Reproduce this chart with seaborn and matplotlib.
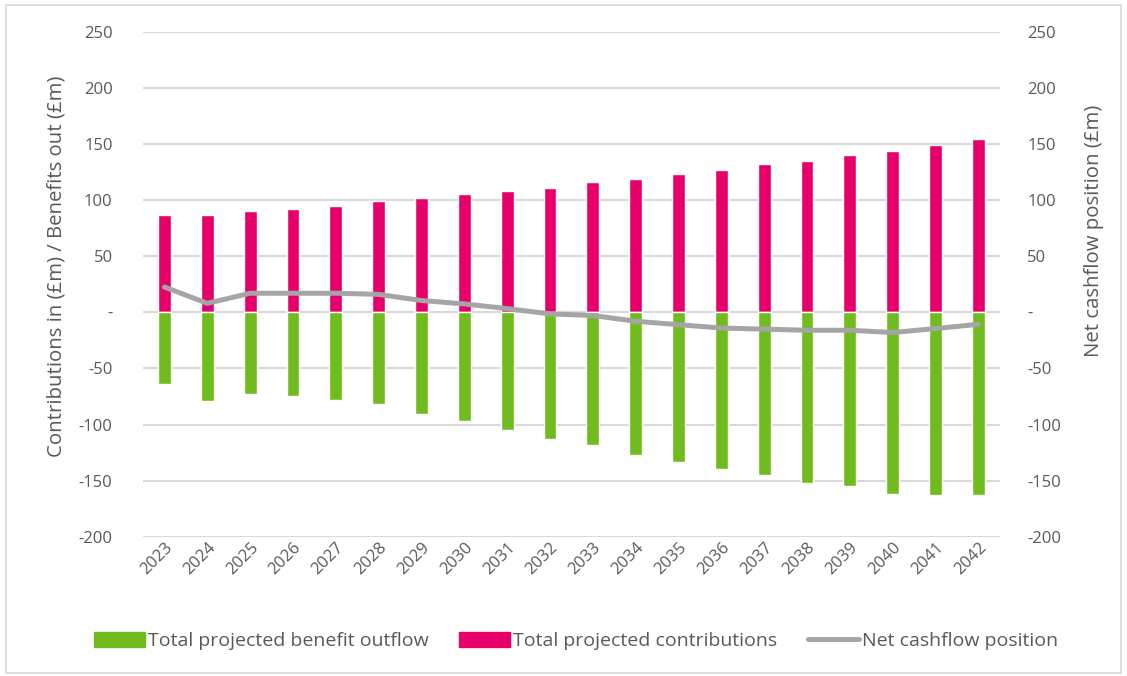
import numpy as np
import pandas as pd
import matplotlib
matplotlib.use("Agg")
import matplotlib.pyplot as plt
from matplotlib.patches import Patch, Rectangle
from matplotlib.lines import Line2D
import seaborn as sns

# data (£m)
years = [str(y) for y in range(2023, 2043)]
contributions = [87, 87, 90, 92, 95, 99, 102, 105, 108, 111,
                 116, 119, 123, 127, 132, 135, 140, 144, 149, 154]
benefits = [-64, -79, -73, -75, -78, -82, -91, -97, -105, -113,
            -118, -127, -133, -140, -145, -152, -155, -162, -163, -163]
net_cashflow = [22.5, 8, 17, 17, 17, 16, 10.5, 7.5, 3.3, -1.4,
                -2.8, -8, -11, -14, -15, -16, -16, -18, -14.5, -10.7]
y_ticks = [250, 200, 150, 100, 50, 0, -50, -100, -150, -200]

GREEN = "#70BC1F"
PINK = "#E8006A"
GREY = "#A5A5A5"
TEXT = "#595959"
GRID = "#D9D9D9"

df = pd.DataFrame({"Year": years, "Contributions": contributions,
                   "Benefits": benefits, "Net": net_cashflow})

sns.set_style("white")
plt.rcParams['font.family'] = ['Open Sans', 'DejaVu Sans']

fig = plt.figure(figsize=(11.27, 6.76), dpi=100)
ax = fig.add_axes([0.127, 0.206, 0.76, 0.747])

# 막대 두 개를 같은 위치에 겹쳐 그림
sns.barplot(data=df, x="Year", y="Contributions", color=PINK, width=0.3,
            saturation=1, ax=ax, zorder=2)
sns.barplot(data=df, x="Year", y="Benefits", color=GREEN, width=0.3,
            saturation=1, ax=ax, zorder=2)

ax2 = ax.twinx()
sns.lineplot(data=df, x="Year", y="Net", color=GREY, linewidth=3.6,
             ax=ax2, zorder=3, sort=False)

def fmt(v):
    return "-" if v == 0 else f"{v:g}"

for a in (ax, ax2):
    a.set_ylim(-200, 250)
    a.set_yticks(y_ticks)
    a.set_yticklabels([fmt(v) for v in y_ticks])
    a.tick_params(axis="y", length=0, labelsize=12, colors=TEXT, pad=22)
    for s in a.spines.values():
        s.set_visible(False)

ax.set_xlim(-0.5, len(years) - 0.5)
ax.yaxis.grid(True, color=GRID, linewidth=1.5)
ax.set_axisbelow(True)
ax.tick_params(axis="x", length=0, labelsize=12, colors=TEXT, pad=2)
plt.setp(ax.get_xticklabels(), rotation=45, ha="right", rotation_mode="anchor")
ax.set_xlabel("")
ax.set_ylabel("Contributions in (£m) / Benefits out (£m)", fontsize=14.7,
              color=TEXT)
ax.yaxis.set_label_coords(-0.09, 0.535)
ax2.set_ylabel("Net cashflow position (£m)", fontsize=14.7, color=TEXT)
ax2.yaxis.set_label_coords(1.099, 0.606)
ax2.tick_params(axis="y", pad=20)
ax2.set_xlabel("")

handles = [Patch(facecolor=GREEN, edgecolor=GREEN),
           Patch(facecolor=PINK, edgecolor=PINK),
           Line2D([0], [0], color=GREY, linewidth=3.6)]
labels = ["Total projected benefit outflow", "Total projected contributions",
          "Net cashflow position"]
fig.legend(handles, labels, loc="center", bbox_to_anchor=(0.511, 0.052),
           ncol=3, frameon=False, fontsize=14, labelcolor=TEXT,
           handlelength=2.6, handleheight=0.8, handletextpad=0.15,
           columnspacing=1.6)

# 차트 테두리
fig.patches.append(Rectangle((0.005, 0.005), 0.99, 0.988,
                             transform=fig.transFigure, fill=False,
                             edgecolor=GRID, linewidth=1.2))

fig.savefig("out.png", dpi=100)
plt.close(fig)
